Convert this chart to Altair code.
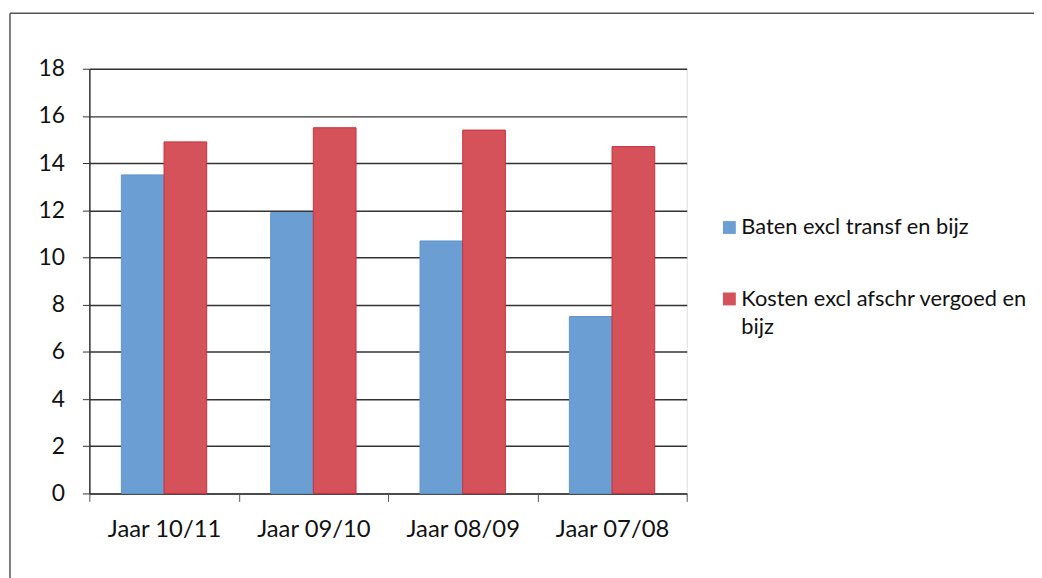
import altair as alt
import pandas as pd

categories = ["Jaar 10/11", "Jaar 09/10", "Jaar 08/09", "Jaar 07/08"]
series = ["Baten excl transf en bijz", "Kosten excl afschr vergoed en bijz"]
baten = [13.5, 11.9, 10.7, 7.5]
kosten = [14.9, 15.5, 15.4, 14.7]
y_ticks = [0, 2, 4, 6, 8, 10, 12, 14, 16, 18]

rows = []
for c, b, k in zip(categories, baten, kosten):
    rows.append({"jaar": c, "reeks": series[0], "waarde": b})
    rows.append({"jaar": c, "reeks": series[1], "waarde": k})
df = pd.DataFrame(rows)

FONT = "Lato"

bars = alt.Chart(df).mark_bar(strokeWidth=1).encode(
    x=alt.X("jaar:N", sort=categories, title=None,
            scale=alt.Scale(paddingInner=0, paddingOuter=0),
            axis=alt.Axis(tickBand="extent", labelAngle=0, tickSize=8,
                          tickColor="#555555", domainColor="#444444", domainWidth=1.5,
                          labelPadding=16, labelFontSize=24, labelColor="#111111",
                          labelFont=FONT, grid=False)),
    xOffset=alt.XOffset("reeks:N", sort=series,
                        scale=alt.Scale(paddingInner=0, paddingOuter=0.75)),
    y=alt.Y("waarde:Q", title=None,
            scale=alt.Scale(domain=[0, 18], nice=False),
            axis=alt.Axis(values=y_ticks, tickSize=7, tickColor="#333333",
                          gridColor="#333333", gridWidth=1.5, domainColor="#333333",
                          domainWidth=1.5, labelPadding=18, labelFontSize=23,
                          labelColor="#111111", labelFont=FONT)),
    color=alt.Color("reeks:N", sort=series, title=None,
                    scale=alt.Scale(domain=series, range=["#6b9fd4", "#d6525b"]),
                    legend=alt.Legend(orient="none", legendX=634, legendY=149,
                                      symbolType="square", symbolSize=169,
                                      symbolStrokeWidth=0, labelFontSize=22,
                                      labelFont=FONT, labelColor="#111111",
                                      labelOffset=1, rowPadding=50,
                                      labelLimit=400,
                                      labelExpr="datum.label == 'Kosten excl afschr vergoed en bijz' ? ['Kosten excl afschr vergoed en', 'bijz'] : datum.label")),
    stroke=alt.Stroke("reeks:N", sort=series,
                      scale=alt.Scale(domain=series, range=["#5f93c9", "#c9303b"]),
                      legend=None),
)

frame_top = alt.Chart(alt.Data(values=[{"f": 1}])).mark_rule(
    stroke="#555555", strokeWidth=1.5
).encode(x=alt.value(-80), x2=alt.value(960), y=alt.value(-56))

frame_left = alt.Chart(alt.Data(values=[{"f": 1}])).mark_rule(
    stroke="#555555", strokeWidth=1.5
).encode(x=alt.value(-80), y=alt.value(-56), y2=alt.value(530))

chart = alt.layer(frame_top, frame_left, bars).properties(
    width=602, height=428,
    autosize=alt.AutoSizeParams(type="none"),
    padding={"left": 82, "top": 59, "right": 350, "bottom": 83},
).configure_view(stroke=None).configure(
    background="white", style={"guide-label": {"lineHeight": 28}}
)

chart.save("out.html", embed_options={"renderer": "svg", "actions": False})
